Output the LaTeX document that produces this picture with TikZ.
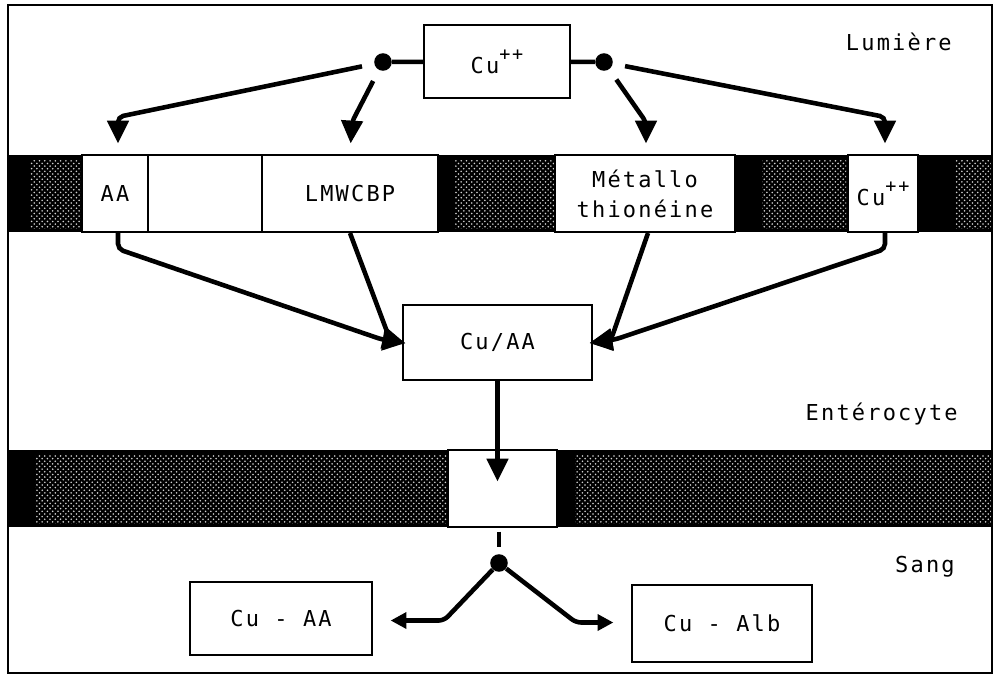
\documentclass[tikz,border=0pt]{standalone}
\usepackage{fontspec}
\newfontfamily\labfont{DejaVu Sans Mono}[LetterSpace=10]
\usetikzlibrary{positioning,calc,arrows.meta,patterns}

\newcommand\plusplus{\raisebox{1.1ex}{\fontsize{10.5}{10.5}\selectfont ++}}

\tikzset{
  box/.style={draw,line width=1.2pt,fill=white,inner sep=0pt,
    font=\labfont\fontsize{12.5}{17}\selectfont,align=center},
  lbl/.style={font=\labfont\fontsize{12.5}{15}\selectfont,anchor=east,inner sep=0pt},
  dot/.style={circle,fill,inner sep=0pt,minimum size=10pt},
  link/.style={line width=2.6pt},
  flow/.style={line width=2.6pt,-{Triangle[width=12pt,length=13pt]},
    rounded corners=3pt,shorten >=6pt},
  flowsm/.style={line width=2.6pt,-{Triangle[width=9pt,length=9pt]},
    rounded corners=3pt,shorten >=10pt},
  stip/.style={pattern=crosshatch dots,pattern color=black!18}
}

\begin{document}
\begin{tikzpicture}[x=0.02cm,y=-0.02cm]
  \useasboundingbox (0,0) rectangle (1000,680);
  \fill[white] (0,0) rectangle (1000,680);
  % membranes
  \fill[black] (8,155) rectangle (992,232);
  \fill[stip] (30,160) rectangle (82,228);
  \fill[stip] (455,160) rectangle (555,228);
  \fill[stip] (762,160) rectangle (846,228);
  \fill[stip] (955,160) rectangle (992,228);
  \fill[black] (8,450) rectangle (992,527);
  \fill[stip] (35,455) rectangle (448,523);
  \fill[stip] (575,455) rectangle (992,523);
  \draw[line width=1.5pt] (8,5) rectangle (992,673);

  % boxes
  \node[box,minimum width=2.92cm,minimum height=1.46cm] (cu) at (497,61.5) {Cu\plusplus};
  \node[box,minimum width=1.32cm,minimum height=1.54cm] (aa) at (115,193.5) {AA};
  \node[box,minimum width=2.28cm,minimum height=1.54cm] (blank) at (205,193.5) {};
  \node[box,minimum width=3.52cm,minimum height=1.54cm] (lmw) at (350,193.5) {LMWCBP};
  \node[box,minimum width=3.6cm,minimum height=1.54cm] (meta) at (645,193.5) {Métallo\\thionéine};
  \node[box,minimum width=1.4cm,minimum height=1.54cm] (cu2) at (883,193.5) {Cu\plusplus};
  \node[box,minimum width=3.78cm,minimum height=1.5cm] (cuaa) at (497.5,342.5) {Cu/AA};
  \node[box,minimum width=2.18cm,minimum height=1.54cm] (gap) at (502.5,488.5) {};
  \node[box,minimum width=3.64cm,minimum height=1.46cm] (cuaa2) at (281,618.5) {Cu - AA};
  \node[box,minimum width=3.6cm,minimum height=1.54cm] (cualb) at (722,623.5) {Cu - Alb};

  % compartments
  \node[lbl] (lum) at (952,42) {Lumière};
  \node[lbl] (ent) at (958,414) {Entérocyte};
  \node[lbl] (sang) at (955,567) {Sang};

  % branch points
  \node[dot] (ldot) at (383,62) {};
  \node[dot] (rdot) at (604,62) {};
  \node[dot] (bdot) at (499,563) {};

  \draw[link] (ldot) -- (cu);
  \draw[link] (rdot) -- (cu);

  % uptake
  \draw[flow,shorten <=7pt] (ldot) -- ($(aa.north)+(3,-37)$) -- ($(aa.north)+(3,0)$);
  \draw[flow,shorten <=7pt] (ldot) -- ($(lmw.north)+(2,-32)$) -- (lmw.north);
  \draw[flow,shorten <=7pt] (rdot) -- ($(meta.north)+(1,-32)$) -- ($(meta.north)+(1,0)$);
  \draw[flow,shorten <=7pt] (rdot) -- ($(cu2.north)+(2,-37)$) -- ($(cu2.north)+(2,0)$);

  % transfer to Cu/AA
  \draw[flow,shorten >=-2pt] ($(aa.south)+(3,0)$) -- ($(aa.south)+(3,16)$) -- ($(cuaa.west)+(-20,-3)$) -- (cuaa.west);
  \draw[flow,shorten >=-2pt] (lmw.south) -- ($(cuaa.west)+(-12,-3)$) -- (cuaa.west);
  \draw[flow,shorten >=-2pt] ($(meta.south)+(3,0)$) -- ($(cuaa.east)+(18,-3)$) -- (cuaa.east);
  \draw[flow,shorten >=-2pt] ($(cu2.south)+(2,0)$) -- ($(cu2.south)+(2,16)$) -- ($(cuaa.east)+(22,-3)$) -- (cuaa.east);

  % basolateral exit
  \draw[flow,shorten >=4pt] (cuaa.south) -- (cuaa.south |- gap.center);
  \draw[link,shorten <=2pt,shorten >=4pt] (bdot |- gap.south) -- (bdot);
  \draw[flowsm] (bdot) -- ($(cuaa2.east)+(71,2)$) -- ($(cuaa2.east)+(0,2)$);
  \draw[flowsm] (bdot) -- ($(cualb.west)+(-55,-1)$) -- ($(cualb.west)+(0,-1)$);
\end{tikzpicture}
\end{document}
